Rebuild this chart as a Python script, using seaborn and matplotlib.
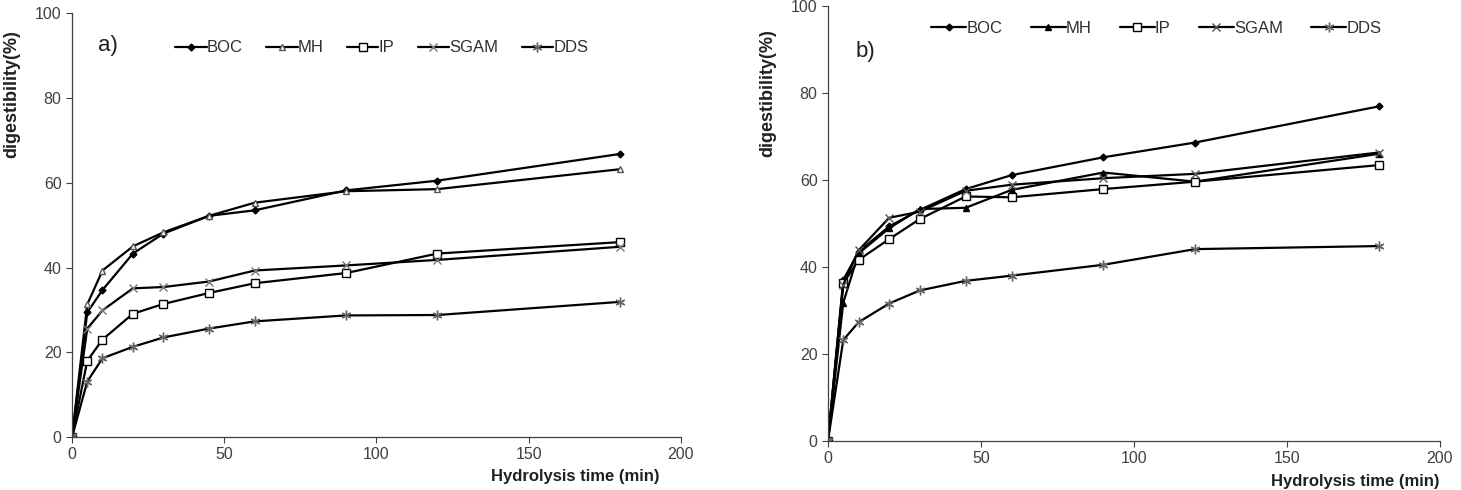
import pandas as pd
import seaborn as sns
import matplotlib.pyplot as plt

time = [0, 5, 10, 20, 30, 45, 60, 90, 120, 180]
series = ['BOC', 'MH', 'IP', 'SGAM', 'DDS']

# panel a
a_boc = [0, 29.4, 34.7, 43.3, 48.0, 52.2, 53.5, 58.2, 60.5, 66.8]
a_mh = [0, 31.3, 39.3, 45.0, 48.3, 52.2, 55.3, 58.0, 58.5, 63.2]
a_ip = [0, 18.0, 23.0, 29.1, 31.4, 34.0, 36.3, 38.7, 43.3, 46.0]
a_sgam = [0, 25.6, 29.9, 35.1, 35.4, 36.7, 39.3, 40.5, 41.8, 44.9]
a_dds = [0, 13.1, 18.6, 21.3, 23.5, 25.6, 27.3, 28.7, 28.8, 31.9]

# panel b
b_boc = [0, 37.0, 43.5, 49.3, 53.1, 57.9, 61.1, 65.2, 68.6, 76.9]
b_mh = [0, 31.8, 43.1, 48.9, 53.3, 53.6, 57.7, 61.7, 59.6, 66.0]
b_ip = [0, 36.2, 41.6, 46.4, 51.0, 56.2, 56.0, 57.9, 59.6, 63.4]
b_sgam = [0, 35.9, 43.8, 51.3, 52.7, 57.5, 58.9, 60.4, 61.4, 66.3]
b_dds = [0, 23.2, 27.3, 31.6, 34.6, 36.8, 38.0, 40.5, 44.1, 44.8]

panel_a = dict(zip(series, [a_boc, a_mh, a_ip, a_sgam, a_dds]))
panel_b = dict(zip(series, [b_boc, b_mh, b_ip, b_sgam, b_dds]))

sns.set_style("ticks")
plt.rcParams['font.family'] = ['Liberation Sans', 'DejaVu Sans']

# marker, size, face, edge for each panel
styles_a = {
    'BOC': ('D', 3.5, 'black', 'black'),
    'MH': ('^', 5, 'white', '#555555'),
    'IP': ('s', 5.5, 'white', 'black'),
    'SGAM': ('x', 6, 'none', '#777777'),
    'DDS': ((6, 2, 0), 7, 'none', '#666666'),
}
styles_b = dict(styles_a)
styles_b['MH'] = ('^', 5, 'black', 'black')
styles_b['SGAM'] = ('x', 6, 'none', '#555555')

fig = plt.figure(figsize=(14.61, 4.9), dpi=100)
ax_a = fig.add_axes([0.0493, 0.108, 0.4168, 0.865])
ax_b = fig.add_axes([0.5667, 0.100, 0.4189, 0.888])


def draw(ax, data, styles, tag, tag_xy, leg, xlab_x, ylab_y):
    for name in series:
        df = pd.DataFrame({'time': time, 'dig': data[name]})
        m, ms, fc, ec = styles[name]
        sns.lineplot(data=df, x='time', y='dig', ax=ax, color='black', lw=1.6,
                     marker=m, markersize=ms, markerfacecolor=fc,
                     markeredgecolor=ec, markeredgewidth=1.0, label=name)
    ax.set_xlim(0, 200)
    ax.set_ylim(0, 100)
    ax.set_xticks([0, 50, 100, 150, 200])
    ax.set_yticks([0, 20, 40, 60, 80, 100])
    ax.tick_params(colors='#404040', labelsize=11.5, length=4, width=0.8)
    for s in ['left', 'bottom']:
        ax.spines[s].set_color('#404040')
        ax.spines[s].set_linewidth(0.9)
    sns.despine(ax=ax)
    ax.set_xlabel('Hydrolysis time (min)', fontweight='bold', fontsize=12,
                  color='#202020')
    ax.xaxis.set_label_coords(xlab_x, -0.075)
    ax.xaxis.label.set_ha('right')
    ax.set_ylabel('digestibility(%)', fontweight='bold', fontsize=13,
                  color='#202020')
    ax.yaxis.set_label_coords(-0.085, ylab_y)
    ax.text(tag_xy[0], tag_xy[1], tag, transform=ax.transAxes, fontsize=16,
            color='#202020', va='center')
    ax.legend(loc='center left', bbox_to_anchor=leg[:2], ncol=5,
              frameon=False, fontsize=12, handlelength=leg[2],
              columnspacing=leg[3], handletextpad=0.0, labelcolor='#303030',
              borderaxespad=0)


draw(ax_a, panel_a, styles_a, 'a)', (0.042, 0.925), (0.158, 0.918, 1.9, 1.4), 0.965, 0.81)
draw(ax_b, panel_b, styles_b, 'b)', (0.045, 0.895), (0.158, 0.948, 2.1, 1.7), 1.0, 0.80)

plt.savefig('out.png', dpi=100)
